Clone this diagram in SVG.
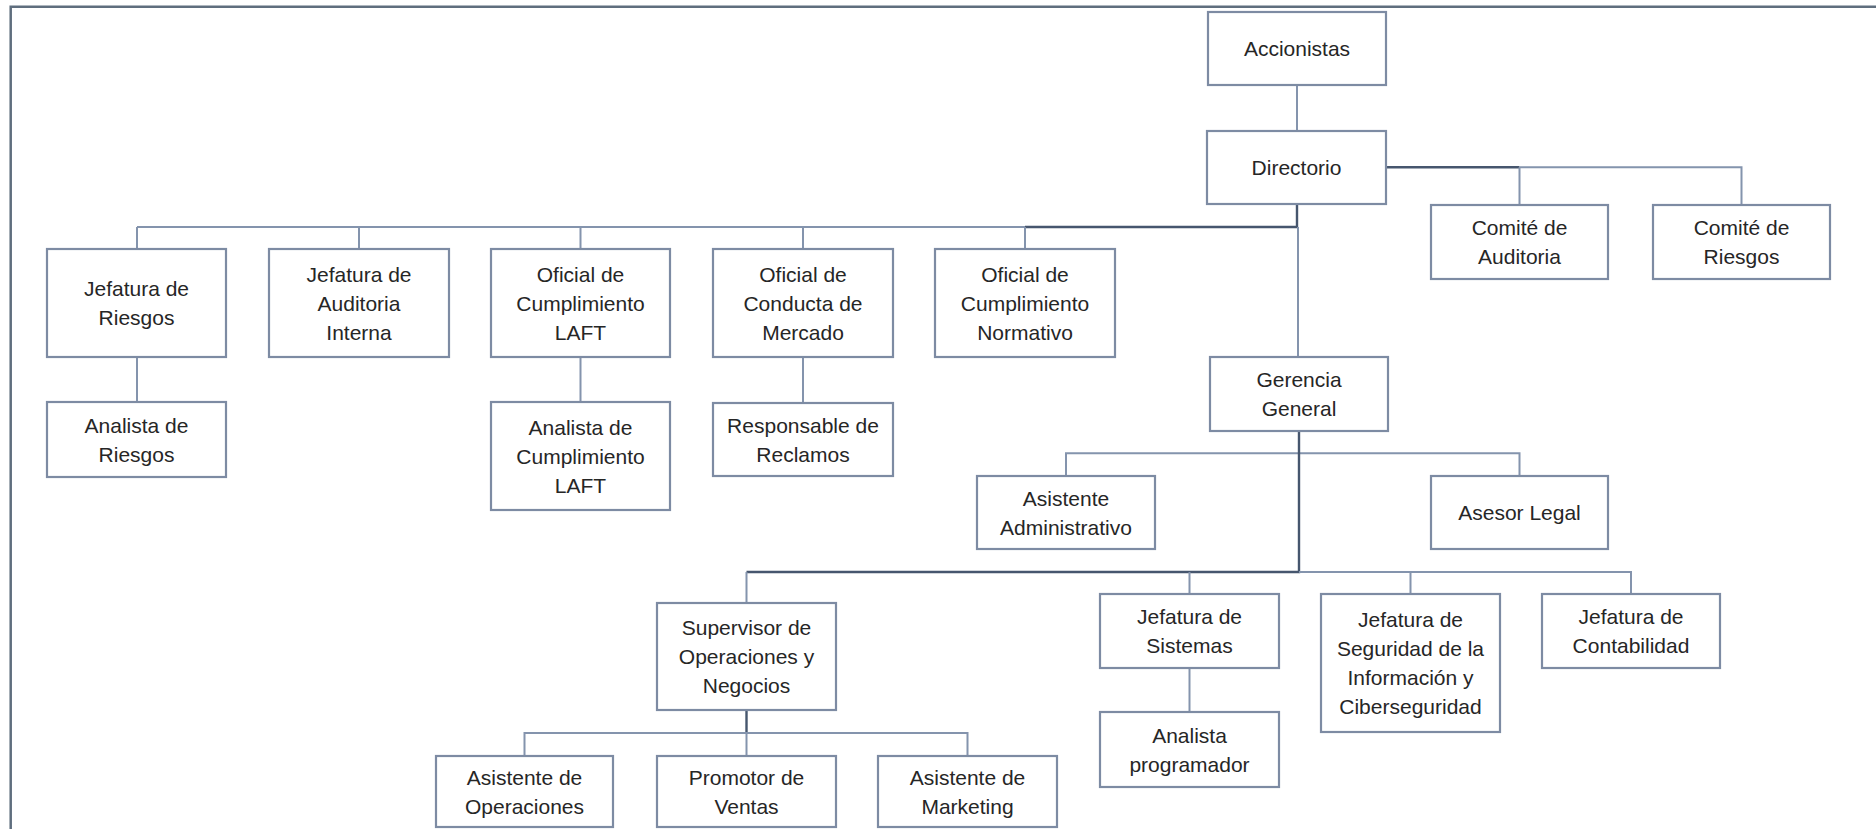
<svg xmlns="http://www.w3.org/2000/svg" width="1876" height="829" viewBox="0 0 1876 829">
<style>
.box{fill:#ffffff;stroke:#7d8ba3;stroke-width:2.2}
.lbl{font-family:"Liberation Sans",Arial,sans-serif;font-size:21px;fill:#262626;text-anchor:middle}
.ln{fill:none;stroke:#8494ad;stroke-width:2}
.dk{fill:none;stroke:#46566e;stroke-width:2.4}
.frame{fill:none;stroke:#5f6e7e;stroke-width:2.5}
</style>
<rect x="0" y="0" width="1876" height="829" fill="#ffffff"/>
<path class="frame" d="M10.7,829 V6.7 H1876"/>
<g id="connectors">
<path class="ln" d="M1297,85 V131"/>
<path class="dk" d="M1297,204 V227 H1025"/>
<path class="ln" d="M1025,227 H137 M137,227 V249 M359,227 V249 M580.5,227 V249 M803,227 V249 M1025,227 V249"/>
<path class="dk" d="M1386,167.3 H1519.5"/>
<path class="ln" d="M1519.5,167.3 H1741.5 V205 M1519.5,167.3 V205"/>
<path class="ln" d="M1298,227 V357"/>
<path class="ln" d="M137,357 V402 M580.5,357 V402 M803,357 V403"/>
<path class="ln" d="M1066,476 V453.3 H1519.5 V476"/>
<path class="dk" d="M1299,431 V572 H746.5"/>
<path class="ln" d="M746.5,572 V603 M1299,572 H1631 V594 M1189.5,572 V594 M1410.5,572 V594"/>
<path class="dk" d="M746.5,710 V733"/>
<path class="ln" d="M524.5,756 V733 H967.5 V756 M746.5,733 V756"/>
<path class="ln" d="M1189.5,668 V712"/>
</g>
<g id="n-accionistas"><rect class="box" x="1208" y="12" width="178" height="73"/><text class="lbl" x="1297" y="56">Accionistas</text></g>
<g id="n-directorio"><rect class="box" x="1207" y="131" width="179" height="73"/><text class="lbl" x="1296.5" y="175">Directorio</text></g>
<g id="n-comite-auditoria"><rect class="box" x="1431" y="205" width="177" height="74"/><text class="lbl" x="1519.5" y="235">Comité de<tspan x="1519.5" dy="29">Auditoria</tspan></text></g>
<g id="n-comite-riesgos"><rect class="box" x="1653" y="205" width="177" height="74"/><text class="lbl" x="1741.5" y="235">Comité de<tspan x="1741.5" dy="29">Riesgos</tspan></text></g>
<g id="n-jef-riesgos"><rect class="box" x="47" y="249" width="179" height="108"/><text class="lbl" x="136.5" y="296">Jefatura de<tspan x="136.5" dy="29">Riesgos</tspan></text></g>
<g id="n-analista-riesgos"><rect class="box" x="47" y="402" width="179" height="75"/><text class="lbl" x="136.5" y="432.5">Analista de<tspan x="136.5" dy="29">Riesgos</tspan></text></g>
<g id="n-jef-auditoria"><rect class="box" x="269" y="249" width="180" height="108"/><text class="lbl" x="359" y="281.5">Jefatura de<tspan x="359" dy="29">Auditoria</tspan><tspan x="359" dy="29">Interna</tspan></text></g>
<g id="n-oficial-laft"><rect class="box" x="491" y="249" width="179" height="108"/><text class="lbl" x="580.5" y="281.5">Oficial de<tspan x="580.5" dy="29">Cumplimiento</tspan><tspan x="580.5" dy="29">LAFT</tspan></text></g>
<g id="n-analista-laft"><rect class="box" x="491" y="402" width="179" height="108"/><text class="lbl" x="580.5" y="434.5">Analista de<tspan x="580.5" dy="29">Cumplimiento</tspan><tspan x="580.5" dy="29">LAFT</tspan></text></g>
<g id="n-oficial-conducta"><rect class="box" x="713" y="249" width="180" height="108"/><text class="lbl" x="803" y="281.5">Oficial de<tspan x="803" dy="29">Conducta de</tspan><tspan x="803" dy="29">Mercado</tspan></text></g>
<g id="n-responsable-reclamos"><rect class="box" x="713" y="403" width="180" height="73"/><text class="lbl" x="803" y="432.5">Responsable de<tspan x="803" dy="29">Reclamos</tspan></text></g>
<g id="n-oficial-normativo"><rect class="box" x="935" y="249" width="180" height="108"/><text class="lbl" x="1025" y="281.5">Oficial de<tspan x="1025" dy="29">Cumplimiento</tspan><tspan x="1025" dy="29">Normativo</tspan></text></g>
<g id="n-gerencia"><rect class="box" x="1210" y="357" width="178" height="74"/><text class="lbl" x="1299" y="387">Gerencia<tspan x="1299" dy="29">General</tspan></text></g>
<g id="n-asistente-adm"><rect class="box" x="977" y="476" width="178" height="73"/><text class="lbl" x="1066" y="505.5">Asistente<tspan x="1066" dy="29">Administrativo</tspan></text></g>
<g id="n-asesor-legal"><rect class="box" x="1431" y="476" width="177" height="73"/><text class="lbl" x="1519.5" y="520">Asesor Legal</text></g>
<g id="n-supervisor"><rect class="box" x="657" y="603" width="179" height="107"/><text class="lbl" x="746.5" y="635">Supervisor de<tspan x="746.5" dy="29">Operaciones y</tspan><tspan x="746.5" dy="29">Negocios</tspan></text></g>
<g id="n-jef-sistemas"><rect class="box" x="1100" y="594" width="179" height="74"/><text class="lbl" x="1189.5" y="624">Jefatura de<tspan x="1189.5" dy="29">Sistemas</tspan></text></g>
<g id="n-jef-seguridad"><rect class="box" x="1321" y="594" width="179" height="138"/><text class="lbl" x="1410.5" y="627">Jefatura de<tspan x="1410.5" dy="29">Seguridad de la</tspan><tspan x="1410.5" dy="29">Información y</tspan><tspan x="1410.5" dy="29">Ciberseguridad</tspan></text></g>
<g id="n-jef-contabilidad"><rect class="box" x="1542" y="594" width="178" height="74"/><text class="lbl" x="1631" y="624">Jefatura de<tspan x="1631" dy="29">Contabilidad</tspan></text></g>
<g id="n-analista-programador"><rect class="box" x="1100" y="712" width="179" height="75"/><text class="lbl" x="1189.5" y="742.5">Analista<tspan x="1189.5" dy="29">programador</tspan></text></g>
<g id="n-asistente-operaciones"><rect class="box" x="436" y="756" width="177" height="71"/><text class="lbl" x="524.5" y="784.5">Asistente de<tspan x="524.5" dy="29">Operaciones</tspan></text></g>
<g id="n-promotor-ventas"><rect class="box" x="657" y="756" width="179" height="71"/><text class="lbl" x="746.5" y="784.5">Promotor de<tspan x="746.5" dy="29">Ventas</tspan></text></g>
<g id="n-asistente-marketing"><rect class="box" x="878" y="756" width="179" height="71"/><text class="lbl" x="967.5" y="784.5">Asistente de<tspan x="967.5" dy="29">Marketing</tspan></text></g>
</svg>
